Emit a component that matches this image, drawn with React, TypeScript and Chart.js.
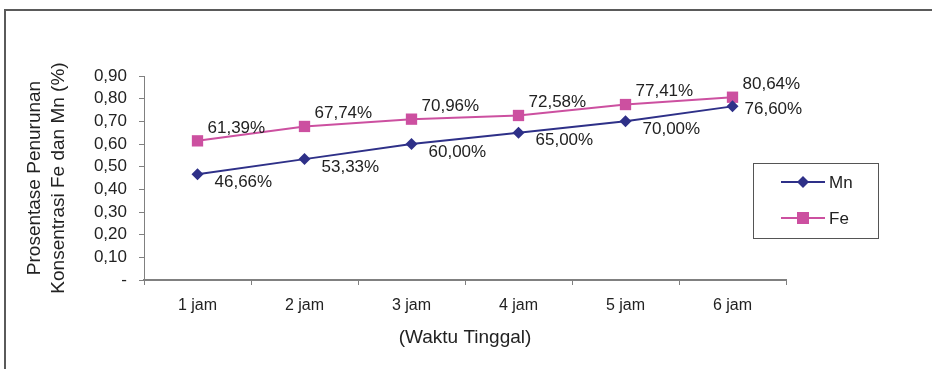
import React, { useEffect, useRef } from "react";
import { Chart, registerables } from "chart.js";

Chart.register(...registerables);

const categories = ["1 jam", "2 jam", "3 jam", "4 jam", "5 jam", "6 jam"];
const mnValues = [0.4666, 0.5333, 0.6, 0.65, 0.7, 0.766];
const feValues = [0.6139, 0.6774, 0.7096, 0.7258, 0.7741, 0.8064];
const yTitleLines = ["Prosentase Penurunan", "Konsentrasi Fe dan Mn (%)"];
const xTitle = "(Waktu Tinggal)";

const MN_COLOR = "#2E3088";
const FE_COLOR = "#CC50A0";
const AXIS_COLOR = "#808080";
const TEXT_COLOR = "#222222";
const FONT = "Liberation Sans, Arial, sans-serif";

const pct = (v: number) => (v * 100).toFixed(2).replace(".", ",") + "%";

// label offsets (dx, dy) relative to each point
const feLabelOffset = [10, -13];
const mnLabelOffset = [17, 8];

const overlayPlugin = {
  id: "overlay",
  afterDraw(chart: any) {
    const { ctx, chartArea } = chart;
    ctx.save();
    ctx.fillStyle = TEXT_COLOR;

    // data labels
    ctx.font = `17px ${FONT}`;
    ctx.textAlign = "left";
    ctx.textBaseline = "middle";
    chart.data.datasets.forEach((ds: any, di: number) => {
      const meta = chart.getDatasetMeta(di);
      const off = di === 0 ? mnLabelOffset : feLabelOffset;
      const lastIdx = ds.data.length - 1;
      meta.data.forEach((pt: any, i: number) => {
        const isLastMn = di === 0 && i === lastIdx;
        const dx = isLastMn ? 12 : off[0];
        const dy = isLastMn ? 3 : off[1];
        ctx.fillText(pct(ds.data[i]), pt.x + dx, pt.y + dy);
      });
    });

    // y-axis title (two rotated lines)
    ctx.font = `19px ${FONT}`;
    ctx.textAlign = "center";
    const cy = (chartArea.top + chartArea.bottom) / 2;
    ctx.save();
    ctx.translate(35, cy);
    ctx.rotate(-Math.PI / 2);
    ctx.fillText(yTitleLines[0], 0, 0);
    ctx.restore();
    ctx.save();
    ctx.translate(59, cy);
    ctx.rotate(-Math.PI / 2);
    ctx.fillText(yTitleLines[1], 0, 0);
    ctx.restore();

    // x-axis title
    ctx.fillText(xTitle, (chartArea.left + chartArea.right) / 2, 338);

    // legend
    ctx.strokeStyle = "#555555";
    ctx.lineWidth = 1;
    ctx.strokeRect(753.5, 163.5, 125, 75);
    const rows = [
      { label: "Mn", color: MN_COLOR, y: 182, style: "diamond" },
      { label: "Fe", color: FE_COLOR, y: 218, style: "square" },
    ];
    rows.forEach((r) => {
      ctx.strokeStyle = r.color;
      ctx.lineWidth = 2;
      ctx.beginPath();
      ctx.moveTo(781, r.y);
      ctx.lineTo(825, r.y);
      ctx.stroke();
      ctx.fillStyle = r.color;
      ctx.beginPath();
      if (r.style === "diamond") {
        ctx.moveTo(803, r.y - 6);
        ctx.lineTo(809, r.y);
        ctx.lineTo(803, r.y + 6);
        ctx.lineTo(797, r.y);
        ctx.closePath();
      } else {
        ctx.rect(797, r.y - 6, 12, 12);
      }
      ctx.fill();
      ctx.fillStyle = TEXT_COLOR;
      ctx.textAlign = "left";
      ctx.font = `17px ${FONT}`;
      ctx.fillText(r.label, 829, r.y + 1);
    });
    ctx.restore();
  },
};

export default function App() {
  const ref = useRef<HTMLCanvasElement | null>(null);

  useEffect(() => {
    if (!ref.current) return;
    const chart = new Chart(ref.current, {
      type: "line",
      data: {
        labels: categories,
        datasets: [
          {
            label: "Mn",
            data: mnValues,
            borderColor: MN_COLOR,
            backgroundColor: MN_COLOR,
            borderWidth: 2,
            pointStyle: "rectRot",
            pointRadius: 6,
            pointBorderWidth: 0,
            tension: 0,
          },
          {
            label: "Fe",
            data: feValues,
            borderColor: FE_COLOR,
            backgroundColor: FE_COLOR,
            borderWidth: 2,
            pointStyle: "rect",
            pointRadius: 8,
            pointBorderWidth: 0,
            tension: 0,
          },
        ],
      },
      options: {
        responsive: false,
        animation: false,
        layout: { padding: { top: 76, right: 146, left: 0, bottom: 0 } },
        plugins: { legend: { display: false }, tooltip: { enabled: false } },
        scales: {
          x: {
            offset: true,
            grid: {
              offset: true,
              drawOnChartArea: false,
              drawTicks: true,
              tickLength: 5,
              color: AXIS_COLOR,
              lineWidth: 1,
            },
            border: { color: AXIS_COLOR, width: 2 },
            ticks: {
              color: TEXT_COLOR,
              font: { family: FONT, size: 16 },
              padding: 11,
              maxRotation: 0,
            },
            afterFit(scale: any) {
              scale.height = 89;
            },
          },
          y: {
            min: 0,
            max: 0.9,
            grid: {
              drawOnChartArea: false,
              drawTicks: true,
              tickLength: 5,
              color: AXIS_COLOR,
            },
            border: { color: AXIS_COLOR, width: 1 },
            ticks: {
              stepSize: 0.1,
              autoSkip: false,
              color: TEXT_COLOR,
              font: { family: FONT, size: 17 },
              padding: 12,
              callback: (v: any) => (Number(v) === 0 ? "-" : Number(v).toFixed(2).replace(".", ",")),
            },
            afterFit(scale: any) {
              scale.width = 144;
            },
          },
        },
      },
      plugins: [overlayPlugin],
    });
    return () => chart.destroy();
  }, []);

  return (
    <div style={{ position: "fixed", left: 0, top: 0, width: 932, height: 369, background: "#fff", overflow: "hidden" }}>
      <div
        style={{
          position: "absolute",
          left: 4,
          top: 9,
          width: 1200,
          height: 1200,
          borderTop: "2px solid #5a5a5a",
          borderLeft: "2px solid #5a5a5a",
        }}
      />
      <canvas ref={ref} width={932} height={369} style={{ position: "absolute", left: 0, top: 0 }} />
    </div>
  );
}
